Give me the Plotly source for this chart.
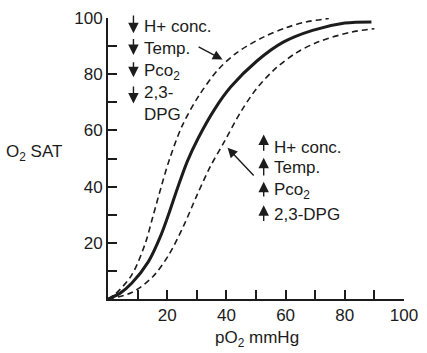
import plotly.graph_objects as go

# Data
normal_x = [0, 4, 8, 13.6, 18, 20.7, 23.5, 26.8, 30.5, 36, 41.5, 50.3, 59.2, 69.1, 80, 89]
normal_y = [0, 2.0, 5.6, 13.2, 23.0, 30.8, 39.5, 49.0, 57.3, 67.5, 75.5, 84.7, 91.4, 95.6, 98.2, 98.6]

left_x = [0, 2.5, 8, 12.5, 15.2, 18, 20.7, 25, 30.5, 37.1, 43.7, 52.5, 60.3, 66.9, 74.6]
left_y = [0, 1.8, 8.5, 19.5, 29.5, 40, 49.5, 61.5, 72, 81.5, 87.8, 93.2, 96.6, 98.6, 99.8]

right_x = [0, 8, 15.2, 20.7, 25.7, 30, 34.5, 39.3, 44.8, 50.3, 57, 63.6, 71.3, 82.3, 90]
right_y = [0, 2.3, 8, 16, 26.4, 36.8, 47, 56, 66.5, 75, 82.4, 87.6, 91.6, 95, 96.2]

tick_vals = [10, 20, 30, 40, 50, 60, 70, 80, 90, 100]
tick_text = ["", "20", "", "40", "", "60", "", "80", "", "100"]

left_labels = ["H+ conc.", "Temp.", "Pco<sub>2</sub>", "2,3-<br>DPG"]
right_labels = ["H+ conc.", "Temp.", "Pco<sub>2</sub>", "2,3-DPG"]

INK = "#1c1c1c"
FONT = "Liberation Sans, Arial, sans-serif"
FS = 17

fig = go.Figure()
fig.add_trace(go.Scatter(x=left_x, y=left_y, mode="lines", line=dict(color=INK, width=1.6, dash="6px,4px",
                         shape="spline", smoothing=0.9), hoverinfo="skip"))
fig.add_trace(go.Scatter(x=right_x, y=right_y, mode="lines", line=dict(color=INK, width=1.6, dash="6px,4px",
                         shape="spline", smoothing=0.9), hoverinfo="skip"))
fig.add_trace(go.Scatter(x=normal_x, y=normal_y, mode="lines", line=dict(color=INK, width=3,
                         shape="spline", smoothing=0.9), hoverinfo="skip"))

ann = []
# left group (decrease -> shift left)
left_text_y = [96.9, 89.0, 80.7, 69.5]
left_arrow = [(101.4, 94.6), (93.1, 86.8), (84.8, 78.9), (76.2, 69.6)]
for lab, ty, (a0, a1) in zip(left_labels, left_text_y, left_arrow):
    ann.append(dict(x=11.6, y=ty, text=lab, showarrow=False, xanchor="left", yanchor="middle",
                    align="left", font=dict(size=FS, color=INK, family=FONT)))
    ann.append(dict(x=8.6, y=a1, ax=8.6, ay=a0, axref="x", ayref="y", text="", showarrow=True,
                    arrowhead=2, arrowsize=1.5, arrowwidth=1.4, arrowcolor=INK))
# right group (increase -> shift right)
right_text_y = [53.8, 46.9, 38.3, 30.0]
right_arrow = [(52.2, 58.5), (43.4, 50.3), (35.9, 41.7), (27.2, 33.4)]
for lab, ty, (a0, a1) in zip(right_labels, right_text_y, right_arrow):
    ann.append(dict(x=55.3, y=ty, text=lab, showarrow=False, xanchor="left", yanchor="middle",
                    align="left", font=dict(size=FS, color=INK, family=FONT)))
    ann.append(dict(x=52.6, y=a1, ax=52.6, ay=a0, axref="x", ayref="y", text="", showarrow=True,
                    arrowhead=2, arrowsize=1.5, arrowwidth=1.4, arrowcolor=INK))
# pointer arrows
ann.append(dict(x=38.7, y=85.2, ax=30.1, ay=90.0, axref="x", ayref="y", text="", showarrow=True,
                arrowhead=2, arrowsize=1.4, arrowwidth=1.4, arrowcolor=INK))
ann.append(dict(x=40.4, y=53.8, ax=49.7, ay=43.4, axref="x", ayref="y", text="", showarrow=True,
                arrowhead=2, arrowsize=1.4, arrowwidth=1.4, arrowcolor=INK))
# axis titles (paper coordinates)
ann.append(dict(xref="paper", yref="paper", x=-0.35, y=0.52, text="O<sub>2</sub> SAT",
                showarrow=False, xanchor="left", yanchor="middle",
                font=dict(size=FS, color=INK, family=FONT)))
ann.append(dict(xref="paper", yref="paper", x=0.503, y=-0.141, text="pO<sub>2</sub> mmHg",
                showarrow=False, xanchor="center", yanchor="middle",
                font=dict(size=FS, color=INK, family=FONT)))

axis_common = dict(range=[0, 100], showgrid=False, zeroline=False, showline=True,
                   linecolor=INK, linewidth=2, ticks="inside", ticklen=9, tickwidth=2,
                   tickcolor=INK, tickvals=tick_vals, ticktext=tick_text,
                   ticklabeloverflow="allow",
                   tickfont=dict(size=FS, color=INK, family=FONT))
fig.update_layout(
    width=427, height=353, margin=dict(l=108, r=17, t=9, b=54),
    paper_bgcolor="white", plot_bgcolor="white", showlegend=False,
    xaxis=axis_common, yaxis=axis_common, annotations=ann,
)
fig.write_html("out.html")
